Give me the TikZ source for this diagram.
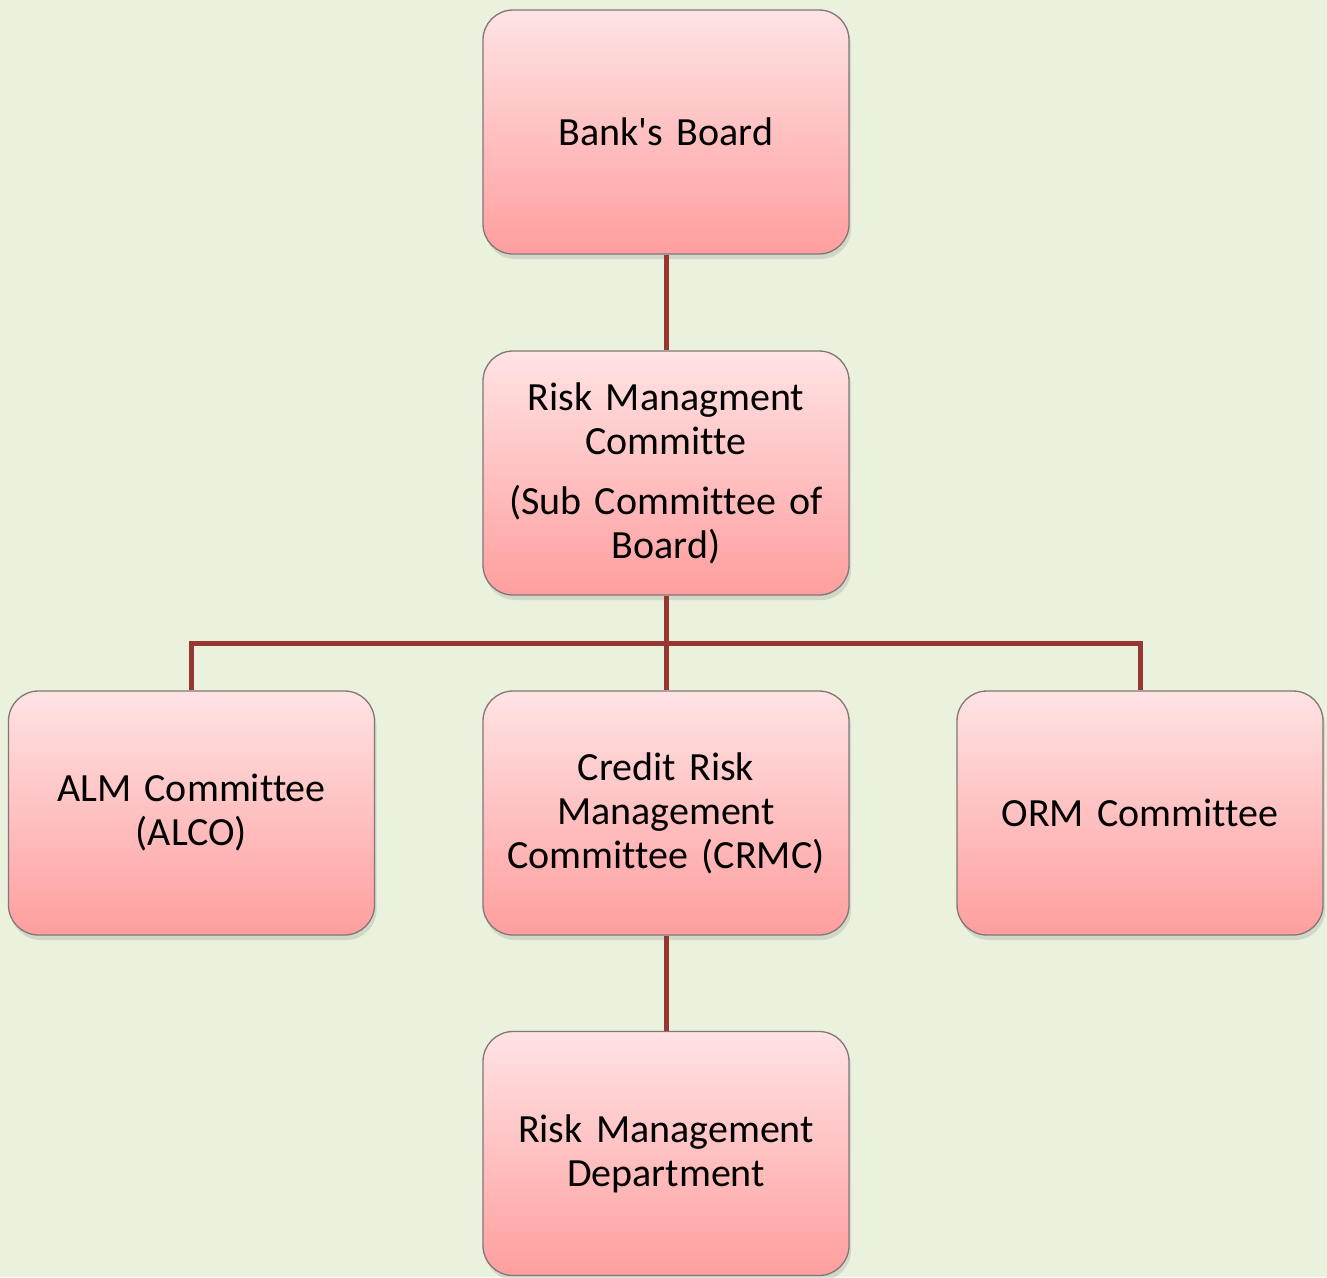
\documentclass[tikz,border=0pt]{standalone}
\usepackage{fontspec}
\setmainfont[Ligatures={NoCommon},WordSpace=0.9]{Carlito}
\usetikzlibrary{shadows,positioning}
\definecolor{bgc}{RGB}{234,241,221}
\definecolor{linec}{RGB}{150,55,52}
\definecolor{boxtop}{RGB}{255,227,228}
\definecolor{boxbot}{RGB}{255,158,158}
\definecolor{boxedge}{RGB}{130,118,118}
\tikzset{
  orgbox/.style={draw=boxedge, line width=1.3pt, rounded corners=30pt,
    top color=boxtop, bottom color=boxbot,
    minimum width=366pt, minimum height=244pt, inner sep=0pt,
    text width=340pt, align=center,
    font=\fontsize{40}{44}\selectfont,
    drop shadow={opacity=0.22, shadow xshift=2pt, shadow yshift=-5pt}},
  conn/.style={draw=linec, line width=5pt, line join=miter}
}
\begin{document}
\begin{tikzpicture}[x=1pt,y=1pt]
\fill[bgc] (0,0) rectangle (1327,-1277);
\useasboundingbox (0,0) rectangle (1327,-1277);
\node[orgbox] (board) at (666,-132) {Bank\textquotesingle s Board};
\node[orgbox] (rmc) at (666,-473) {Risk Managment\\Committe\\[16pt](Sub Committee of\\Board)};
\node[orgbox] (alco) at (191.5,-813) {ALM Committee\\(ALCO)};
\node[orgbox] (crmc) at (666,-813) {Credit Risk\\Management\\Committee (CRMC)};
\node[orgbox] (orm) at (1140,-813) {ORM Committee};
\node[orgbox] (rmd) at (666,-1153.5) {Risk Management\\Department};
\draw[conn] (board.south) -- (rmc.north);
\draw[conn] (rmc.south) -- (crmc.north);
\draw[conn] (rmc.south) -- ++(0,-48) -| (alco.north);
\draw[conn] (rmc.south) -- ++(0,-48) -| (orm.north);
\draw[conn] (crmc.south) -- (rmd.north);
\end{tikzpicture}
\end{document}
